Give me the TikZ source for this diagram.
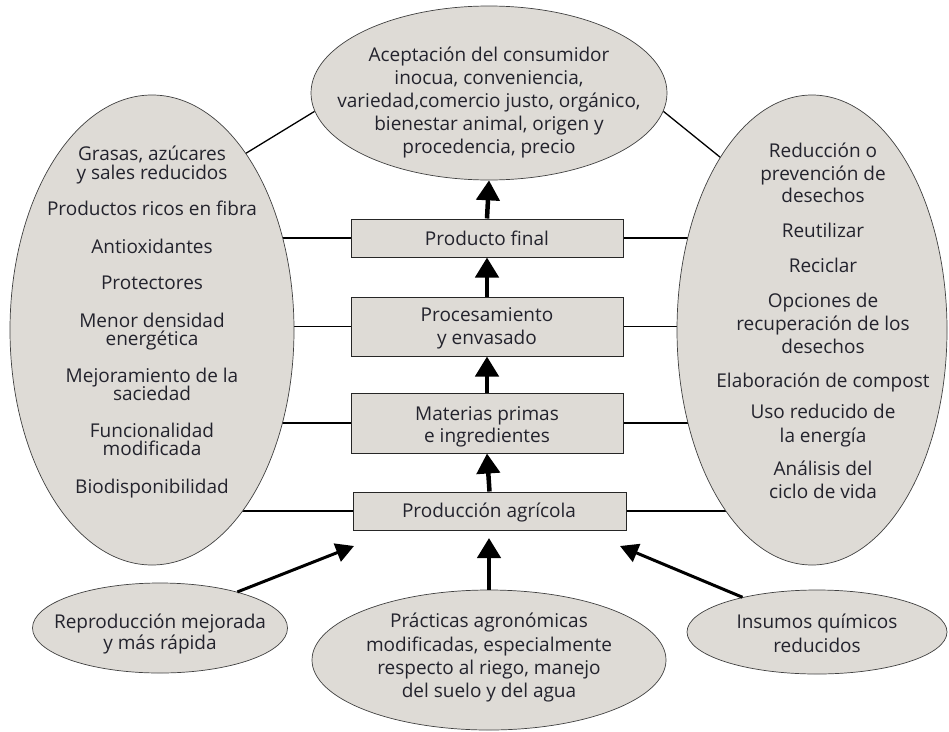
\documentclass[tikz,border=0pt]{standalone}
\usepackage{fontspec}
\setmainfont{Open Sans}
\usetikzlibrary{shapes.geometric,arrows.meta,backgrounds}
\definecolor{fillgray}{RGB}{222,219,214}
\definecolor{txtc}{RGB}{35,35,45}
\begin{document}
\begin{tikzpicture}[x=1pt,y=-1pt,
  oval/.style={ellipse, draw=black!75, line width=0.7pt, fill=fillgray, inner sep=0pt},
  stage/.style={rectangle, draw=black!85, line width=1pt, fill=fillgray, inner sep=0pt},
  txt/.style={font=\fontsize{19}{19}\selectfont, text=txtc, inner sep=0pt, anchor=base},
  link/.style={line width=1.8pt, black},
  diag/.style={line width=1.3pt, black},
  up/.style={line width=4.5pt, black, -{Triangle[length=20pt,width=23pt]}},
  slant/.style={line width=3pt, black, -{Triangle[length=18pt,width=19pt]}}
]
\useasboundingbox (0,0) rectangle (949,731);

% ellipses
\node[oval, minimum width=356pt, minimum height=174pt] (top) at (489,93) {};
\node[oval, minimum width=284pt, minimum height=470pt] (left) at (152,330) {};
\node[oval, minimum width=270pt, minimum height=470pt] (right) at (812,330) {};
\node[oval, minimum width=255pt, minimum height=90pt] (bl) at (160,628) {};
\node[oval, minimum width=354pt, minimum height=140pt] (bm) at (489,660) {};
\node[oval, minimum width=260pt, minimum height=84pt] (br) at (817,632) {};

% stage boxes
\node[stage, minimum width=272pt, minimum height=38pt] (s4) at (487,238) {};
\node[stage, minimum width=272pt, minimum height=59pt] (s3) at (487,326.5) {};
\node[stage, minimum width=272pt, minimum height=60pt] (s2) at (487,423) {};
\node[stage, minimum width=273pt, minimum height=38pt] (s1) at (489.5,511) {};

\begin{pgfonlayer}{background}
% horizontal links
\draw[link] (s4.west) -- (s4.west -| left.center);
\draw[link] (s3.west) -- (s3.west -| left.center);
\draw[link] (s2.west) -- (s2.west -| left.center);
\draw[link] (s1.west) -- (s1.west -| left.center);
\draw[link] (s4.east) -- (s4.east -| right.center);
\draw[link] (s3.east) -- (s3.east -| right.center);
\draw[link] (s2.east) -- (s2.east -| right.center);
\draw[link] (s1.east) -- (s1.east -| right.center);
% diagonal links
\draw[diag] (top.186) -- (left.62);
\draw[diag] (top.-6) -- (right.118);
\end{pgfonlayer}

% arrows
\draw[up] (s4.north) -- (top.south);
\draw[up] (s3.north) -- (s4.south);
\draw[up] (s2.north) -- (s3.south);
\draw[up] (s1.north) -- (s2.south);
\coordinate (ta) at (489,538);
\coordinate (la) at (354,546);
\coordinate (ra) at (620,546);
\draw[up] (bm.north) -- (ta);
\draw[slant] (bl.25) -- (la);
\draw[slant] (br.155) -- (ra);

% top text
\node[txt] (t1) at (489,61) {Aceptación del consumidor};
\node[txt] (t2) at (489,84) {inocua, conveniencia,};
\node[txt] (t3) at (489,107) {variedad,comercio justo, orgánico,};
\node[txt] (t4) at (489,130) {bienestar animal, origen y};
\node[txt] (t5) at (489,153) {procedencia, precio};

% left text
\node[txt] (a1) at (152,160) {Grasas, azúcares};
\node[txt] (a2) at (152,179) {y sales reducidos};
\node[txt] (a3) at (152,215) {Productos ricos en fibra};
\node[txt] (a4) at (152,253) {Antioxidantes};
\node[txt] (a5) at (152,289) {Protectores};
\node[txt] (a6) at (152,327) {Menor densidad};
\node[txt] (a7) at (152,345) {energética};
\node[txt] (a8) at (152,382) {Mejoramiento de la};
\node[txt] (a9) at (152,400) {saciedad};
\node[txt] (a10) at (152,437) {Funcionalidad};
\node[txt] (a11) at (152,455) {modificada};
\node[txt] (a12) at (152,493) {Biodisponibilidad};

% right text
\node[txt] (b1) at (823,157) {Reducción o};
\node[txt] (b2) at (823,180) {prevención de};
\node[txt] (b3) at (823,202) {desechos};
\node[txt] (b4) at (823,237) {Reutilizar};
\node[txt] (b5) at (823,272) {Reciclar};
\node[txt] (b6) at (823,307) {Opciones de};
\node[txt] (b7) at (823,330) {recuperación de los};
\node[txt] (b8) at (823,353) {desechos};
\node[txt] (b9) at (823,387) {Elaboración de compost};
\node[txt] (b10) at (823,418) {Uso reducido de};
\node[txt] (b11) at (823,442) {la energía};
\node[txt] (b12) at (823,475) {Análisis del};
\node[txt] (b13) at (823,498) {ciclo de vida};

% box text
\node[txt] (c1) at (487,245) {Producto final};
\node[txt] (c2) at (487,321) {Procesamiento};
\node[txt] (c3) at (487,344) {y envasado};
\node[txt] (c4) at (487,420) {Materias primas};
\node[txt] (c5) at (487,442) {e ingredientes};
\node[txt] (c6) at (489,517) {Producción agrícola};

% bottom text
\node[txt] (d1) at (160,628) {Reproducción mejorada};
\node[txt] (d2) at (160,649) {y más rápida};
\node[txt] (e1) at (489,627) {Prácticas agronómicas};
\node[txt] (e2) at (489,651) {modificadas, especialmente};
\node[txt] (e3) at (489,674) {respecto al riego, manejo};
\node[txt] (e4) at (489,697) {del suelo y del agua};
\node[txt] (f1) at (817,628) {Insumos químicos};
\node[txt] (f2) at (817,652) {reducidos};
\end{tikzpicture}
\end{document}
